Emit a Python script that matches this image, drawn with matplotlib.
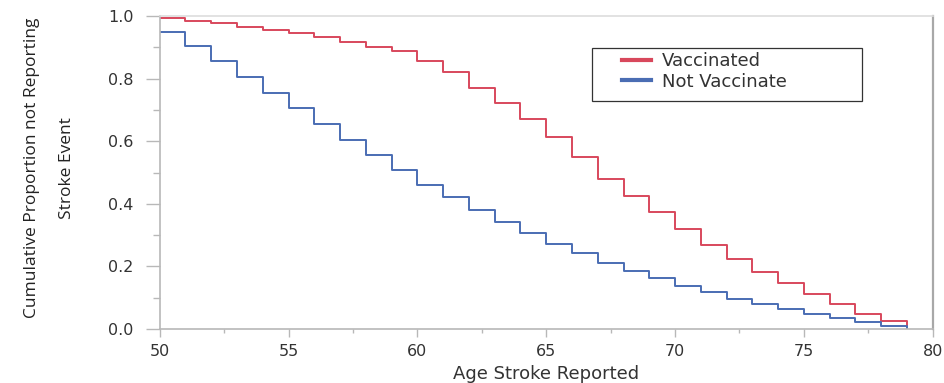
import matplotlib.pyplot as plt
from matplotlib.patches import Rectangle
from matplotlib.ticker import MultipleLocator, FormatStrFormatter

# ages where each step starts (last one is where the curve drops to 0)
ages = [50, 51, 52, 53, 54, 55, 56, 57, 58, 59, 60, 61, 62, 63, 64,
        65, 66, 67, 68, 69, 70, 71, 72, 73, 74, 75, 76, 77, 78, 79]

vaccinated = [0.993, 0.985, 0.977, 0.965, 0.955, 0.945, 0.933, 0.916, 0.902, 0.887,
              0.856, 0.821, 0.771, 0.721, 0.670, 0.614, 0.551, 0.478, 0.425, 0.375,
              0.319, 0.269, 0.223, 0.182, 0.146, 0.111, 0.080, 0.049, 0.025, 0.0]

not_vaccinated = [0.948, 0.905, 0.858, 0.804, 0.755, 0.705, 0.656, 0.604, 0.556, 0.507,
                  0.459, 0.421, 0.379, 0.343, 0.307, 0.271, 0.244, 0.210, 0.184, 0.164,
                  0.136, 0.117, 0.097, 0.080, 0.065, 0.048, 0.034, 0.021, 0.011, 0.0]

series_names = ['Vaccinated', 'Not Vaccinate']
series_colors = ['#d8485c', '#4a6db3']

plt.rcParams['font.family'] = ['DejaVu Sans']

fig = plt.figure(figsize=(9.45, 3.83), dpi=100)
ax = fig.add_axes([0.169, 0.141, 0.818, 0.817])

# step curves
ax.step(ages, vaccinated, where='post', color=series_colors[0], lw=1.4, label=series_names[0])
ax.step(ages, not_vaccinated, where='post', color=series_colors[1], lw=1.4, label=series_names[1])

# axes range and ticks
ax.set_xlim(50, 80)
ax.set_ylim(0, 1.0)
ax.xaxis.set_major_locator(MultipleLocator(5))
ax.xaxis.set_minor_locator(MultipleLocator(2.5))
ax.yaxis.set_major_locator(MultipleLocator(0.2))
ax.yaxis.set_minor_locator(MultipleLocator(0.1))
ax.yaxis.set_major_formatter(FormatStrFormatter('%.1f'))

ax.tick_params(axis='both', which='both', direction='out', color='#b8b8b8', width=1,
               labelcolor='#333333', labelsize=11.5)
ax.tick_params(axis='y', which='major', length=10, pad=9)
ax.tick_params(axis='y', which='minor', length=5)
ax.tick_params(axis='x', which='major', length=6, pad=5)
ax.tick_params(axis='x', which='minor', length=3)

# spines
for side in ['left', 'bottom']:
    ax.spines[side].set_color('#b8b8b8')
    ax.spines[side].set_linewidth(1.2)
ax.spines['top'].set_color('#dddddd')
ax.spines['top'].set_linewidth(1.2)
ax.spines['right'].set_color('#a8a8a8')
ax.spines['right'].set_linewidth(1.6)

# labels
ax.set_xlabel('Age Stroke Reported', fontsize=13, color='#333333', labelpad=4)
ax.set_ylabel('Cumulative Proportion not Reporting\nStroke Event', fontsize=12.5,
              family='Open Sans', color='#222222', linespacing=2.6, va='center')
ax.yaxis.set_label_coords(-0.143, 0.515)

# legend box drawn by hand, entries without frame inside it
ax.add_patch(Rectangle((0.5598, 0.7284), 0.349, 0.1694, transform=ax.transAxes,
                       facecolor='white', edgecolor='#333333', lw=0.9, zorder=3))
leg = ax.legend(loc='upper left', bbox_to_anchor=(0.598, 0.885), fontsize=13,
                frameon=False, handlelength=1.6, handletextpad=0.6,
                borderpad=0, labelspacing=0.15, borderaxespad=0)
leg.set_zorder(4)
for line in leg.get_lines():
    line.set_linewidth(3)
for t in leg.get_texts():
    t.set_color('#333333')

fig.savefig('out.png', dpi=100)
